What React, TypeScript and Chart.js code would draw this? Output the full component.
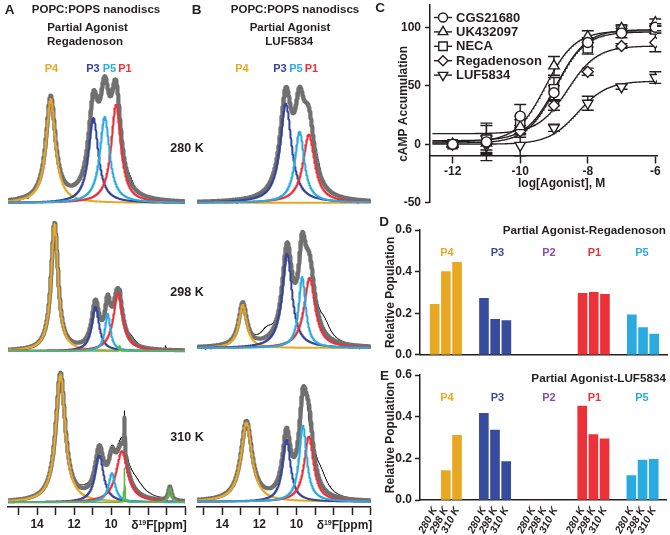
import React, { useEffect, useRef } from 'react';
import { Chart, registerables } from 'chart.js';

Chart.register(...registerables);

const FONT = "'Liberation Sans', Arial, Helvetica, sans-serif";
const INK = '#231f20';
Chart.defaults.font.family = FONT;

// ================= Panels A & B : 19F NMR spectra (fitted peak tables) =================
const peakLabels = ['P4', 'P3', 'P5', 'P1'];
const peakColors = ['#E9A823', '#33469B', '#29ABE2', '#EC3238'];
const minorColor = '#5DB84A';
const fitColor = '#707070';
const rawColor = '#141414';
const tempLabels = ['280 K', '298 K', '310 K'];
const ppmTicks = [6, 7, 8, 9, 10, 11, 12, 13, 14, 15];
const ppmLabelled = [10, 12, 14];

// Panel A (Regadenoson) — peaks in order P4, P3, P5, P1: centre (ppm), height, half-width (ppm)
const A280_center = [13.26, 10.95, 10.34, 9.73];
const A280_height = [104, 85, 86, 98];
const A280_width = [0.31, 0.32, 0.32, 0.32];
const A280_minorCenter: number[] = [];
const A280_minorHeight: number[] = [];
const A280_minorWidth: number[] = [];
const A280_residCenter = [9.0, 15.0, 14.5, 8.05, 7.75];
const A280_residHeight = [6, -3, -3, -5, -4];
const A280_residWidth = [0.25, 0.08, 0.08, 0.08, 0.08];

const A298_center = [13.05, 10.84, 10.18, 9.62];
const A298_height = [127, 44, 37, 57];
const A298_width = [0.23, 0.24, 0.18, 0.31];
const A298_minorCenter = [9.52];
const A298_minorHeight = [5];
const A298_minorWidth = [0.02];
const A298_residCenter = [8.9, 7.05];
const A298_residHeight = [5, 4];
const A298_residWidth = [0.3, 0.03];

const A310_center = [12.73, 10.63, 9.95, 9.41];
const A310_height = [128, 47, 29, 51];
const A310_width = [0.31, 0.28, 0.22, 0.38];
const A310_minorCenter = [9.27, 6.81];
const A310_minorHeight = [34, 14];
const A310_minorWidth = [0.02, 0.1];
const A310_residCenter = [8.7, 11.4];
const A310_residHeight = [13, 3];
const A310_residWidth = [0.6, 0.4];

// Panel B (LUF5834)
const B280_center = [12.9, 10.57, 9.83, 9.33];
const B280_height = [0, 99, 71, 68];
const B280_width = [0.3, 0.37, 0.31, 0.38];
const B280_residCenter = [8.85, 13.8, 13.2, 7.3, 6.7];
const B280_residHeight = [8, -3, -4, -4, -4];
const B280_residWidth = [0.2, 0.08, 0.08, 0.08, 0.08];

const B298_center = [12.89, 10.5, 9.69, 9.29];
const B298_height = [43, 94, 71, 70];
const B298_width = [0.26, 0.32, 0.23, 0.36];
const B298_residCenter = [11.6, 8.5, 14.9, 14.6, 6.6];
const B298_residHeight = [10, 14, -3, -3, -4];
const B298_residWidth = [0.4, 0.4, 0.08, 0.08, 0.08];

const B310_center = [12.69, 10.53, 9.65, 9.33];
const B310_height = [79, 62, 76, 65];
const B310_width = [0.36, 0.26, 0.25, 0.31];
const B310_residCenter = [8.7, 9.3, 15.2, 14.7];
const B310_residHeight = [17, -22, -3, -3];
const B310_residWidth = [0.45, 0.12, 0.08, 0.08];

type Spec = {
  c: number[]; h: number[]; w: number[];
  mc: number[]; mh: number[]; mw: number[];
  rc: number[]; rh: number[]; rw: number[];
};

const specA: Spec[] = [
  { c: A280_center, h: A280_height, w: A280_width, mc: A280_minorCenter, mh: A280_minorHeight, mw: A280_minorWidth, rc: A280_residCenter, rh: A280_residHeight, rw: A280_residWidth },
  { c: A298_center, h: A298_height, w: A298_width, mc: A298_minorCenter, mh: A298_minorHeight, mw: A298_minorWidth, rc: A298_residCenter, rh: A298_residHeight, rw: A298_residWidth },
  { c: A310_center, h: A310_height, w: A310_width, mc: A310_minorCenter, mh: A310_minorHeight, mw: A310_minorWidth, rc: A310_residCenter, rh: A310_residHeight, rw: A310_residWidth },
];
const specB: Spec[] = [
  { c: B280_center, h: B280_height, w: B280_width, mc: [], mh: [], mw: [], rc: B280_residCenter, rh: B280_residHeight, rw: B280_residWidth },
  { c: B298_center, h: B298_height, w: B298_width, mc: [], mh: [], mw: [], rc: B298_residCenter, rh: B298_residHeight, rw: B298_residWidth },
  { c: B310_center, h: B310_height, w: B310_width, mc: [], mh: [], mw: [], rc: B310_residCenter, rh: B310_residHeight, rw: B310_residWidth },
];

const PPM: number[] = [];
for (let i = 0; i <= 960; i++) PPM.push(Math.round((6 + i * 0.01) * 100) / 100);

const lor = (x: number, c: number, h: number, w: number) => h / (1 + ((x - c) / w) ** 2);

const lineBase = {
  pointRadius: 0,
  fill: false,
  tension: 0,
  borderJoinStyle: 'round' as const,
  borderCapStyle: 'round' as const,
};

function spectrumDatasets(s: Spec, off: number) {
  const fit = PPM.map((x) => {
    let v = 0;
    s.c.forEach((c, k) => (v += lor(x, c, s.h[k], s.w[k])));
    s.mc.forEach((c, k) => (v += lor(x, c, s.mh[k], s.mw[k])));
    return v;
  });
  const resid = PPM.map((x) => {
    let v = 0;
    s.rc.forEach((c, k) => (v += lor(x, c, s.rh[k], s.rw[k])));
    return v;
  });
  const ds: any[] = [];
  // raw spectrum underneath, thick fitted sum over it, components on top
  ds.push({ ...lineBase, data: PPM.map((x, i) => ({ x, y: off + fit[i] + resid[i] })), borderColor: rawColor, borderWidth: 1, order: 30 });
  ds.push({ ...lineBase, data: PPM.map((x, i) => ({ x, y: off + fit[i] })), borderColor: fitColor, borderWidth: 4.2, order: 20 });
  const peakOrder = [9, 7, 5, 6];
  s.c.forEach((c, k) => {
    ds.push({ ...lineBase, data: PPM.map((x) => ({ x, y: off + lor(x, c, s.h[k], s.w[k]) })), borderColor: peakColors[k], borderWidth: 2, order: peakOrder[k] });
  });
  if (s.mc.length) {
    ds.push({
      ...lineBase,
      data: PPM.map((x) => {
        let v = 0;
        s.mc.forEach((c, k) => (v += lor(x, c, s.mh[k], s.mw[k])));
        return { x, y: off + v };
      }),
      borderColor: minorColor, borderWidth: 1.6, order: 1,
    });
  }
  return ds;
}

function spectrumConfig(specs: Spec[], offsets: number[], xMax: number, padL: number, padR: number): any {
  const datasets: any[] = [];
  specs.forEach((s, i) => datasets.push(...spectrumDatasets(s, offsets[i])));
  return {
    type: 'line',
    data: { datasets },
    options: {
      animation: false, responsive: false, devicePixelRatio: 1, events: [],
      parsing: false, normalized: true,
      layout: { padding: { left: padL, right: padR, top: 0, bottom: 0 } },
      plugins: { legend: { display: false }, tooltip: { enabled: false } },
      scales: {
        x: {
          type: 'linear', reverse: true, min: 6, max: xMax,
          afterBuildTicks: (sc: any) => { sc.ticks = ppmTicks.map((v) => ({ value: v })); },
          afterFit: (sc: any) => { sc.height = 28; },
          ticks: {
            autoSkip: false, maxRotation: 0, padding: 2, color: INK,
            font: { family: FONT, size: 12, weight: 'bold' },
            callback: (v: any) => (ppmLabelled.includes(Number(v)) ? String(v) : ''),
          },
          grid: { display: true, drawOnChartArea: false, drawTicks: true, tickLength: 8, tickWidth: 1.5, tickColor: INK },
          border: { display: true, color: INK, width: 1.5 },
        },
        y: { type: 'linear', display: false, min: 0, max: 507 },
      },
    },
  };
}

// ================= Panel C : cAMP dose–response =================
const doseLog = [-12, -11, -10, -9, -8, -7, -6];
const drugNames = ['CGS21680', 'UK432097', 'NECA', 'Regadenoson', 'LUF5834'];
const cgsMean = [0, 2, 24, 44, 87, 95, 100];
const cgsSem = [2, 16, 10, 6, 4, 4, 3];
const ukMean = [0, 1, 15, 67, 92, 99, 104];
const ukSem = [2, 8, 6, 8, 5, 3, 3];
const necaMean = [0, 4, 18, 47, 82, 98, 98];
const necaSem = [2, 12, 6, 10, 5, 3, 3];
const regaMean = [0, 1, 11, 33, 62, 84, 87];
const regaSem = [2, 6, 5, 4, 3, 2, 8];
const lufMean = [0, -1, -1, 14, 35, 49, 57];
const lufSem = [2, 8, 9, 3, 6, 2, 5];
const fitBottom = [1, 2, 3, 9, 0];
const fitTop = [98, 97, 96, 84, 54];
const fitLogEC50 = [-8.93, -9.25, -8.95, -8.6, -8.3];
const cTicksX = [-12, -10, -8, -6];
const cTicksY = [-50, 0, 50, 100];

const drugMeans = [cgsMean, ukMean, necaMean, regaMean, lufMean];
const drugSems = [cgsSem, ukSem, necaSem, regaSem, lufSem];
const markerStyle = ['circle', 'triangle', 'rect', 'rectRot', 'triangle'];
const markerRot = [0, 0, 0, 0, 180];
const markerRadius = [5, 6, 6.5, 5.5, 6];

function drawMarker(ctx: CanvasRenderingContext2D, style: string, x: number, y: number, r: number, rot: number) {
  ctx.beginPath();
  if (style === 'circle') {
    ctx.arc(x, y, r, 0, Math.PI * 2);
  } else if (style === 'triangle') {
    let a = (rot * Math.PI) / 180;
    for (let k = 0; k < 3; k++) {
      const px = x + Math.sin(a) * r;
      const py = y - Math.cos(a) * r;
      if (k === 0) ctx.moveTo(px, py); else ctx.lineTo(px, py);
      a += (2 * Math.PI) / 3;
    }
  } else if (style === 'rect') {
    const s = r * Math.SQRT1_2;
    ctx.rect(x - s, y - s, 2 * s, 2 * s);
  } else {
    ctx.moveTo(x, y - r); ctx.lineTo(x + r, y); ctx.lineTo(x, y + r); ctx.lineTo(x - r, y);
  }
  ctx.closePath();
  ctx.fillStyle = '#fff';
  ctx.fill();
  ctx.stroke();
}

const C_LEFT = 370;
const C_TOP = -20;

function doseConfig(): any {
  const curveX: number[] = [];
  for (let i = 0; i <= 330; i++) curveX.push(-12.6 + i * 0.02);
  const curves = drugNames.map((_, d) => ({
    type: 'line',
    data: curveX.map((x) => ({ x, y: fitBottom[d] + (fitTop[d] - fitBottom[d]) / (1 + Math.pow(10, fitLogEC50[d] - x)) })),
    borderColor: INK, borderWidth: 1.3, pointRadius: 0, showLine: true, fill: false, order: 10,
  }));
  const points = drugNames.map((name, d) => ({
    type: 'scatter',
    label: name,
    data: doseLog.map((x, i) => ({ x, y: drugMeans[d][i] })),
    showLine: false,
    pointStyle: markerStyle[d], rotation: markerRot[d], pointRadius: markerRadius[d],
    pointBorderWidth: 1.4, pointBackgroundColor: '#fff', pointBorderColor: INK, order: 1,
  }));
  const errorBars = {
    id: 'errorBars',
    beforeDatasetsDraw(chart: any) {
      const { ctx, scales } = chart;
      ctx.save();
      ctx.strokeStyle = INK; ctx.lineWidth = 1.4;
      drugSems.forEach((sem, d) => {
        doseLog.forEach((lx, i) => {
          const px = scales.x.getPixelForValue(lx);
          const yt = scales.y.getPixelForValue(drugMeans[d][i] + sem[i]);
          const yb = scales.y.getPixelForValue(drugMeans[d][i] - sem[i]);
          ctx.beginPath();
          ctx.moveTo(px, yt); ctx.lineTo(px, yb);
          ctx.moveTo(px - 6, yt); ctx.lineTo(px + 6, yt);
          ctx.moveTo(px - 6, yb); ctx.lineTo(px + 6, yb);
          ctx.stroke();
        });
      });
      ctx.restore();
    },
  };
  const legend = {
    id: 'doseLegend',
    afterDraw(chart: any) {
      const ctx = chart.ctx as CanvasRenderingContext2D;
      ctx.save();
      ctx.strokeStyle = INK; ctx.lineWidth = 1.4;
      ctx.font = `bold 13px ${FONT}`;
      ctx.textBaseline = 'middle';
      drugNames.forEach((name, d) => {
        const y = 17.5 + d * 14.4 - C_TOP;
        ctx.beginPath();
        ctx.moveTo(434 - C_LEFT, y); ctx.lineTo(452 - C_LEFT, y);
        ctx.stroke();
        drawMarker(ctx, markerStyle[d], 443 - C_LEFT, y, markerRadius[d] - 0.5, markerRot[d]);
        ctx.fillStyle = INK;
        ctx.fillText(name, 456 - C_LEFT, y + 0.5);
      });
      ctx.restore();
    },
  };
  const tickFont = { family: FONT, size: 12, weight: 'bold' };
  return {
    type: 'scatter',
    data: { datasets: [...points, ...curves] },
    options: {
      animation: false, responsive: false, devicePixelRatio: 1, events: [],
      layout: { padding: { left: 26.8, right: 13, top: 25, bottom: 12.3 } },
      plugins: { legend: { display: false }, tooltip: { enabled: false } },
      scales: {
        x: {
          type: 'linear', position: { y: -10 }, min: -12.67, max: -5.95,
          afterBuildTicks: (sc: any) => { sc.ticks = cTicksX.map((v) => ({ value: v })); },
          ticks: { font: tickFont, color: INK, padding: 2, maxRotation: 0, autoSkip: false, callback: (v: any) => String(v) },
          grid: { drawOnChartArea: false, tickLength: 7, tickWidth: 1.5, tickColor: INK },
          border: { color: INK, width: 1.5 },
        },
        y: {
          type: 'linear', position: 'left', min: -50, max: 119,
          afterBuildTicks: (sc: any) => { sc.ticks = cTicksY.map((v) => ({ value: v })); },
          afterFit: (sc: any) => { sc.width = 33.2; },
          title: { display: true, text: 'cAMP Accumulation', font: tickFont, color: INK, padding: { top: 0, bottom: 0 } },
          ticks: { font: tickFont, color: INK, padding: 4, callback: (v: any) => String(v) },
          grid: { drawOnChartArea: false, tickLength: 5, tickWidth: 1.5, tickColor: INK },
          border: { color: INK, width: 1.5 },
        },
      },
    },
    plugins: [errorBars, legend],
  };
}

// ================= Panels D & E : relative populations =================
const stateLabels = ['P4', 'P3', 'P2', 'P1', 'P5'];
const stateColors = ['#E9A823', '#384C9E', '#8A4CAE', '#EC3238', '#29ABE2'];
const popTicks = [0, 0.2, 0.4, 0.6];

const regaP4 = [0.243, 0.40, 0.445];
const regaP3 = [0.272, 0.171, 0.165];
const regaP2 = [0, 0, 0];
const regaP1 = [0.296, 0.30, 0.291];
const regaP5 = [0.192, 0.131, 0.10];

const lufP4 = [0, 0.141, 0.31];
const lufP3 = [0.416, 0.336, 0.184];
const lufP2 = [0, 0, 0];
const lufP1 = [0.451, 0.314, 0.294];
const lufP5 = [0.117, 0.192, 0.195];

const GROUP_STEP = 4.4;

function popConfig(groups: number[][], showTemps: boolean): any {
  const pts: any[] = [];
  const colors: string[] = [];
  const positions: number[] = [];
  groups.forEach((vals, g) => {
    vals.forEach((v, b) => {
      const pos = g * GROUP_STEP + b;
      positions.push(pos);
      pts.push({ x: pos, y: v > 0 ? v : null });
      colors.push(stateColors[g]);
    });
  });
  const tickFont = { family: FONT, size: 12, weight: 'bold' };
  return {
    type: 'bar',
    data: { datasets: [{ data: pts, backgroundColor: colors, barThickness: 9, borderWidth: 0 }] },
    options: {
      animation: false, responsive: false, devicePixelRatio: 1, events: [],
      layout: { padding: showTemps ? { left: 3.5, right: 3, top: 25, bottom: 0 } : { left: 3.5, right: 3, top: 30, bottom: 10 } },
      plugins: { legend: { display: false }, tooltip: { enabled: false } },
      scales: {
        x: {
          type: 'linear', offset: false, min: -1.31, max: 20.74,
          afterBuildTicks: (sc: any) => { sc.ticks = positions.map((v) => ({ value: v })); },
          afterFit: (sc: any) => { sc.height = showTemps ? 35 : 0; },
          ticks: {
            display: showTemps, autoSkip: false, minRotation: 62, maxRotation: 62, padding: 5, color: INK,
            font: { family: FONT, size: 10.5, weight: 'bold', style: 'italic' },
            callback: (_v: any, i: number) => tempLabels[i % 3],
          },
          grid: { display: false, drawTicks: false },
          border: { display: true, color: INK, width: 1.5 },
        },
        y: {
          type: 'linear', min: 0, max: 0.6,
          afterBuildTicks: (sc: any) => { sc.ticks = popTicks.map((v) => ({ value: v })); },
          afterFit: (sc: any) => { sc.width = 36.5; },
          title: { display: true, text: 'Relative Population', font: tickFont, color: INK, padding: { top: 0, bottom: 0 } },
          ticks: { font: tickFont, color: INK, padding: 3, callback: (v: any) => Number(v).toFixed(1) },
          grid: { drawOnChartArea: false, tickLength: 5, tickWidth: 1.5, tickColor: INK },
          border: { color: INK, width: 1.5 },
        },
      },
    },
  };
}

// ================= components =================
function ChartBox({ left, top, width, height, make }: { left: number; top: number; width: number; height: number; make: () => any }) {
  const ref = useRef<HTMLCanvasElement | null>(null);
  useEffect(() => {
    if (!ref.current) return;
    const chart = new Chart(ref.current, make());
    return () => chart.destroy();
  }, []);
  return (
    <div style={{ position: 'absolute', left, top, width, height }}>
      <canvas ref={ref} width={width} height={height} style={{ display: 'block', width, height }} />
    </div>
  );
}

function Txt({ x, y, size = 12, color = INK, align = 'center', children }: any) {
  const tx = align === 'center' ? '-50%' : align === 'right' ? '-100%' : '0';
  return (
    <div
      style={{
        position: 'absolute', left: x, top: y, transform: `translate(${tx},-50%)`,
        fontFamily: FONT, fontWeight: 'bold', fontSize: size, color, whiteSpace: 'nowrap', lineHeight: 1,
      }}
    >
      {children}
    </div>
  );
}

const PpmLabel = () => (
  <span>
    δ<span style={{ fontSize: 7, verticalAlign: 'top', lineHeight: 1 }}>19</span>F[ppm]
  </span>
);

export default function App() {
  const offA = [304, 156, 4.7];
  const offB = [304.3, 159, 5.3];
  const pXA = [51.5, 93, 109.5, 125];
  const pXB = [242, 280, 296, 311.5];
  const tempY = [148.3, 291.7, 437];
  const stateX = [447, 497.5, 549, 594.5, 642];
  return (
    <div style={{ position: 'fixed', left: 0, top: 0, width: 670, height: 535, background: '#fff', overflow: 'hidden' }}>
      <ChartBox left={0} top={0} width={192} height={535} make={() => spectrumConfig(specA, offA, 15.575, 8, 7)} />
      <ChartBox left={190} top={0} width={185} height={535} make={() => spectrumConfig(specB, offB, 15.36, 7, 4.3)} />
      <ChartBox left={C_LEFT} top={C_TOP} width={300} height={235} make={doseConfig} />
      <ChartBox left={380} top={200} width={290} height={165} make={() => popConfig([regaP4, regaP3, regaP2, regaP1, regaP5], false)} />
      <ChartBox left={380} top={350} width={290} height={185} make={() => popConfig([lufP4, lufP3, lufP2, lufP1, lufP5], true)} />

      {/* Panel A text */}
      <Txt x={9.5} y={9.5} size={13.5}>A</Txt>
      <Txt x={96} y={9.5} size={11.5}>POPC:POPS nanodiscs</Txt>
      <Txt x={87.5} y={28} size={11.5}>Partial Agonist</Txt>
      <Txt x={85} y={42} size={11.5}>Regadenoson</Txt>
      {peakLabels.map((p, k) => (
        <Txt key={'a' + p} x={pXA[k]} y={68} size={11} color={peakColors[k]}>{p}</Txt>
      ))}
      {tempLabels.map((t, i) => (
        <Txt key={'t' + t} x={187} y={tempY[i]} size={12.5}>{t}</Txt>
      ))}
      <Txt x={159} y={525} size={12}><PpmLabel /></Txt>

      {/* Panel B text */}
      <Txt x={196.7} y={9.5} size={13.5}>B</Txt>
      <Txt x={295} y={9.5} size={11.5}>POPC:POPS nanodiscs</Txt>
      <Txt x={290} y={28} size={11.5}>Partial Agonist</Txt>
      <Txt x={289.3} y={42} size={11.5}>LUF5834</Txt>
      {peakLabels.map((p, k) => (
        <Txt key={'b' + p} x={pXB[k]} y={68} size={11} color={peakColors[k]}>{p}</Txt>
      ))}
      <Txt x={344.5} y={525} size={12}><PpmLabel /></Txt>

      {/* Panel C text */}
      <Txt x={380} y={7.5} size={13.5}>C</Txt>
      <Txt x={561.7} y={182.7} size={12}>log[Agonist], M</Txt>

      {/* Panel D text */}
      <Txt x={384} y={222} size={13.5}>D</Txt>
      <Txt x={666} y={230} size={11.7} align="right">Partial Agonist-Regadenoson</Txt>
      {stateLabels.map((p, g) => (
        <Txt key={'d' + p} x={stateX[g]} y={251.7} size={11} color={stateColors[g]}>{p}</Txt>
      ))}

      {/* Panel E text */}
      <Txt x={384.5} y={376} size={13.5}>E</Txt>
      <Txt x={666} y={378} size={11.7} align="right">Partial Agonist-LUF5834</Txt>
      {stateLabels.map((p, g) => (
        <Txt key={'e' + p} x={stateX[g]} y={397.3} size={11} color={stateColors[g]}>{p}</Txt>
      ))}
    </div>
  );
}
